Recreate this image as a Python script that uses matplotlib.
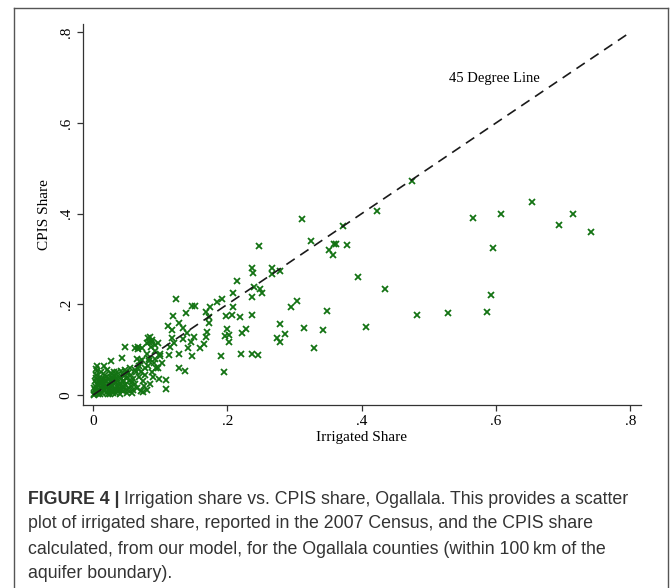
import matplotlib
matplotlib.use('Agg')
import matplotlib.pyplot as plt
from matplotlib.lines import Line2D

# irrigated share (x) and CPIS share (y)
irrigated = [
    0.475, 0.423, 0.311, 0.372, 0.324, 0.247, 0.352, 0.358, 0.361, 0.357, 0.378,
    0.565, 0.607, 0.654, 0.694, 0.715, 0.741, 0.595, 0.592, 0.586, 0.528, 0.483,
    0.435, 0.395, 0.407, 0.348, 0.343, 0.314, 0.329, 0.303, 0.294, 0.278, 0.286,
    0.274, 0.278, 0.267, 0.267, 0.279, 0.236, 0.238, 0.215, 0.240, 0.248, 0.252,
    0.237, 0.208, 0.209, 0.237, 0.219, 0.207, 0.198, 0.200, 0.227, 0.222, 0.203,
    0.196, 0.202, 0.221, 0.237, 0.246, 0.191, 0.195, 0.192, 0.184, 0.124, 0.147,
    0.152, 0.174, 0.168, 0.138, 0.119, 0.172, 0.172, 0.128, 0.112, 0.117, 0.134,
    0.140, 0.170, 0.168, 0.150, 0.134, 0.117, 0.120, 0.146, 0.165, 0.159, 0.142,
    0.115, 0.113, 0.128, 0.148, 0.099, 0.092, 0.102, 0.084, 0.096, 0.128, 0.137,
    0.098, 0.109, 0.108, 0.085, 0.083, 0.088, 0.092, 0.073, 0.067, 0.047, 0.027,
    0.043, 0.006, 0.004, 0.017, 0.062, 0.067, 0.080, 0.082, 0.088, 0.092,
    0.002, 0.003, 0.004, 0.005, 0.006, 0.007, 0.008, 0.008, 0.009, 0.010, 0.011,
    0.012, 0.013, 0.014, 0.015, 0.016, 0.017, 0.018, 0.019, 0.020, 0.021, 0.022,
    0.023, 0.024, 0.025, 0.026, 0.027, 0.028, 0.029, 0.030, 0.031, 0.032, 0.033,
    0.034, 0.035, 0.036, 0.037, 0.038, 0.039, 0.040, 0.041, 0.042, 0.043, 0.044,
    0.045, 0.046, 0.047, 0.048, 0.050, 0.051, 0.052, 0.053, 0.055, 0.056, 0.057,
    0.058, 0.060, 0.062, 0.063, 0.065, 0.066, 0.067, 0.068, 0.070, 0.071, 0.072,
    0.074, 0.075, 0.076, 0.078, 0.080, 0.082, 0.085, 0.088, 0.090,
    0.001, 0.002, 0.003, 0.004, 0.005, 0.006, 0.007, 0.009, 0.010, 0.011, 0.012,
    0.013, 0.014, 0.016, 0.017, 0.019, 0.020, 0.021, 0.022, 0.024, 0.025, 0.027,
    0.028, 0.030, 0.031, 0.033, 0.034, 0.036, 0.038, 0.040, 0.042, 0.044, 0.046,
    0.049, 0.050, 0.054, 0.058, 0.060, 0.064, 0.069, 0.073, 0.077, 0.081, 0.084,
    0.086, 0.091, 0.094, 0.096, 0.100,
]
cpis = [
    0.471, 0.405, 0.388, 0.373, 0.340, 0.329, 0.319, 0.332, 0.332, 0.308, 0.330,
    0.390, 0.400, 0.426, 0.374, 0.400, 0.359, 0.324, 0.220, 0.184, 0.180, 0.177,
    0.233, 0.260, 0.150, 0.186, 0.143, 0.147, 0.104, 0.208, 0.193, 0.157, 0.134,
    0.126, 0.116, 0.281, 0.267, 0.274, 0.281, 0.270, 0.252, 0.238, 0.233, 0.226,
    0.217, 0.226, 0.195, 0.176, 0.172, 0.176, 0.174, 0.145, 0.145, 0.137, 0.132,
    0.130, 0.118, 0.091, 0.090, 0.088, 0.087, 0.050, 0.211, 0.205, 0.212, 0.196,
    0.196, 0.193, 0.184, 0.180, 0.174, 0.171, 0.158, 0.158, 0.152, 0.143, 0.147,
    0.136, 0.140, 0.128, 0.129, 0.123, 0.126, 0.114, 0.118, 0.112, 0.103, 0.103,
    0.107, 0.088, 0.090, 0.086, 0.090, 0.079, 0.070, 0.074, 0.059, 0.060, 0.052,
    0.035, 0.033, 0.013, 0.129, 0.118, 0.121, 0.096, 0.103, 0.102, 0.107, 0.076,
    0.082, 0.065, 0.057, 0.063, 0.104, 0.106, 0.115, 0.126, 0.117, 0.111,
    0.003, 0.010, 0.018, 0.005, 0.025, 0.012, 0.002, 0.032, 0.020, 0.008, 0.040,
    0.015, 0.028, 0.004, 0.022, 0.035, 0.010, 0.045, 0.018, 0.030, 0.006, 0.025,
    0.038, 0.013, 0.002, 0.030, 0.048, 0.020, 0.009, 0.035, 0.025, 0.042, 0.015,
    0.005, 0.050, 0.030, 0.020, 0.040, 0.010, 0.027, 0.052, 0.035, 0.018, 0.045,
    0.008, 0.030, 0.055, 0.022, 0.040, 0.012, 0.048, 0.030, 0.060, 0.020, 0.045,
    0.005, 0.035, 0.055, 0.025, 0.080, 0.015, 0.060, 0.040, 0.075, 0.008, 0.050,
    0.030, 0.006, 0.020, 0.045, 0.012, 0.065, 0.025, 0.050, 0.040,
    0.001, 0.015, 0.030, 0.045, 0.038, 0.052, 0.022, 0.012, 0.028, 0.003, 0.050,
    0.020, 0.033, 0.008, 0.027, 0.040, 0.015, 0.055, 0.003, 0.035, 0.020, 0.010,
    0.040, 0.005, 0.050, 0.028, 0.038, 0.012, 0.022, 0.003, 0.010, 0.030, 0.018,
    0.050, 0.005, 0.015, 0.028, 0.010, 0.050, 0.065, 0.078, 0.060, 0.090, 0.080,
    0.105, 0.070, 0.060, 0.115, 0.085,
]
ticks = [0, 0.2, 0.4, 0.6, 0.8]
tick_labels = ['0', '.2', '.4', '.6', '.8']
line_label = '45 Degree Line'
caption_head = 'FIGURE 4 |'
caption_lines = [
    'Irrigation share vs. CPIS share, Ogallala. This provides a scatter',
    'plot of irrigated share, reported in the 2007 Census, and the CPIS share',
    'calculated, from our model, for the Ogallala counties (within 100\u2009km of the',
    'aquifer boundary).',
]

serif = ['Liberation Serif', 'DejaVu Serif']
sans = ['Liberation Sans', 'DejaVu Sans']

fig = plt.figure(figsize=(6.7, 5.88), dpi=100)
ax = fig.add_axes([0.1239, 0.3112, 0.956 - 0.1239, 0.9592 - 0.3112])

ax.plot([0, 0.8], [0, 0.8], color='#1a1a1a', lw=1.2, linestyle=(0, (6, 4)), zorder=3)
ax.plot(irrigated, cpis, linestyle='none', marker='x', color='#137313',
        markersize=4, markeredgewidth=1.3, zorder=2)
ax.text(0.530, 0.697, line_label, fontsize=10.5, family=serif, va='center', ha='left')

ax.set_xlim(-0.0149, 0.815)
ax.set_ylim(-0.022, 0.818)
ax.set_xticks(ticks)
ax.set_xticklabels(tick_labels, family=serif, fontsize=11)
ax.set_yticks(ticks)
ax.set_yticklabels(tick_labels, family=serif, fontsize=11, rotation=90, va='center')
ax.tick_params(direction='out', length=4.5, width=0.9, color='#333333', pad=3)
for s in ['top', 'right']:
    ax.spines[s].set_visible(False)
for s in ['left', 'bottom']:
    ax.spines[s].set_color('#333333')
    ax.spines[s].set_linewidth(0.9)
ax.set_xlabel('Irrigated Share', family=serif, fontsize=11, labelpad=2)
ax.set_ylabel('CPIS Share', family=serif, fontsize=11, labelpad=6)

# frame around figure + caption
frame_kw = dict(color='#555555', lw=1.0, transform=fig.transFigure)
fig.add_artist(Line2D([14 / 670, 14 / 670], [-0.1, 1 - 8 / 588], **frame_kw))
fig.add_artist(Line2D([668 / 670, 668 / 670], [-0.1, 1 - 8 / 588], **frame_kw))
fig.add_artist(Line2D([14 / 670, 668 / 670], [1 - 8 / 588, 1 - 8 / 588], **frame_kw))

cap_size = 12.8
cap_color = '#333333'
line_y = [497, 522, 547, 572]
head = fig.text(28 / 670, 1 - line_y[0] / 588, caption_head, family=sans, fontsize=cap_size,
                fontweight='bold', color=cap_color, va='center_baseline', ha='left')
fig.canvas.draw()
bb = head.get_window_extent()
for i, txt in enumerate(caption_lines):
    x0 = (bb.x1 + 5) / 670 if i == 0 else 28 / 670
    fig.text(x0, 1 - line_y[i] / 588, txt, family=sans, fontsize=cap_size,
             color=cap_color, va='center_baseline', ha='left')

fig.savefig('out.png', dpi=100)
